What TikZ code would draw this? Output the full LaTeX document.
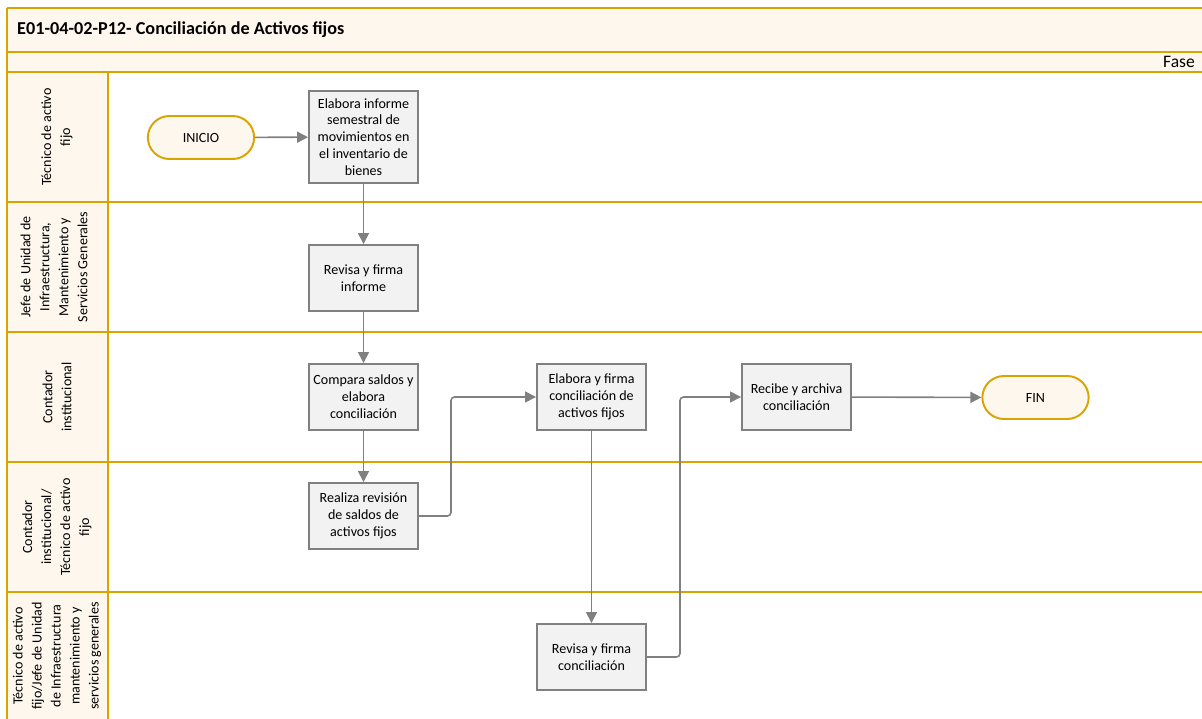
\documentclass[tikz,border=0pt]{standalone}
\usepackage{fontspec}
\setmainfont{Carlito}
\usetikzlibrary{arrows.meta,shapes.misc}
\definecolor{gold}{HTML}{D9A300}
\definecolor{cream}{HTML}{FEF7EE}
\definecolor{boxfill}{HTML}{F2F2F2}
\definecolor{boxline}{HTML}{808080}
\tikzset{
  lane/.style={draw=gold, line width=1.5pt},
  proc/.style={draw=boxline, fill=boxfill, line width=1.1pt, align=center,
               font=\fontsize{8}{9.6}\selectfont, minimum width=2.18cm,
               minimum height=1.32cm, inner sep=2pt},
  term/.style={rounded rectangle, draw=gold, fill=cream, line width=1.1pt,
               minimum width=2.36cm, minimum height=0.86cm,
               font=\fontsize{8}{9.6}\selectfont},
  flow/.style={-{Triangle[length=2.2mm,width=2.2mm]}, draw=boxline,
               line width=0.9pt, rounded corners=2pt},
  lbl/.style={rotate=90, align=center, font=\fontsize{8}{10.8}\selectfont},
}
\begin{document}
\begin{tikzpicture}[x=0.02cm, y=-0.02cm]
  \useasboundingbox (0,0) rectangle (1202,719);
  % frame and lanes
  \fill[cream] (7,8) rectangle (1210,72);
  \fill[cream] (7,72) rectangle (108,730);
  \foreach \yy in {8,52,72,202,332,462,592}
    \draw[lane] (7,\yy) -- (1210,\yy);
  \draw[lane] (7,8) -- (7,730);
  \draw[lane] (108,72) -- (108,730);
  \node[anchor=west, font=\fontsize{10.35}{12}\selectfont\bfseries] (title)
    at (11,30) {E01-04-02-P12- Conciliación de Activos fijos};
  \node[anchor=east, font=\fontsize{10}{12}\selectfont] (fase) at (1201,62) {Fase};
  \node[lbl] (l1) at (57,137) {Técnico de activo\\fijo};
  \node[lbl] (l2) at (54,267) {Jefe de Unidad de\\Infraestructura,\\Mantenimiento y\\Servicios Generales};
  \node[lbl] (l3) at (57,397) {Contador\\institucional};
  \node[lbl] (l4) at (57,527) {Contador\\institucional/\\Técnico de activo\\fijo};
  \node[lbl] (l5) at (57,656) {Técnico de activo\\fijo/Jefe de Unidad\\de Infraestructura\\mantenimiento y\\servicios generales};
  % steps
  \node[term] (inicio) at (201,137.5) {INICIO};
  \node[proc, minimum height=1.84cm] (informe) at (363.5,137)
    {Elabora informe\\semestral de\\movimientos en\\el inventario de\\bienes};
  \node[proc] (firma) at (363.5,278) {Revisa y firma\\informe};
  \node[proc] (compara) at (363.5,397) {Compara saldos y\\elabora\\conciliación};
  \node[proc] (revision) at (363.5,516) {Realiza revisión\\de saldos de\\activos fijos};
  \node[proc] (elabora) at (591.5,397) {Elabora y firma\\conciliación de\\activos fijos};
  \node[proc] (revisa) at (591.5,657) {Revisa y firma\\conciliación};
  \node[proc] (recibe) at (796.5,397) {Recibe y archiva\\conciliación};
  \node[term] (fin) at (1035.5,397.5) {FIN};
  % connectors
  \draw[flow] (inicio) -- (informe);
  \draw[flow] (informe) -- (firma);
  \draw[flow] (firma) -- (compara);
  \draw[flow] (compara) -- (revision);
  \draw[flow] (revision.east) -- ++(32,0) |- (elabora.west);
  \draw[flow] (elabora) -- (revisa);
  \draw[flow] (revisa.east) -- ++(33,0) |- (recibe.west);
  \draw[flow] (recibe) -- (fin);
\end{tikzpicture}
\end{document}
